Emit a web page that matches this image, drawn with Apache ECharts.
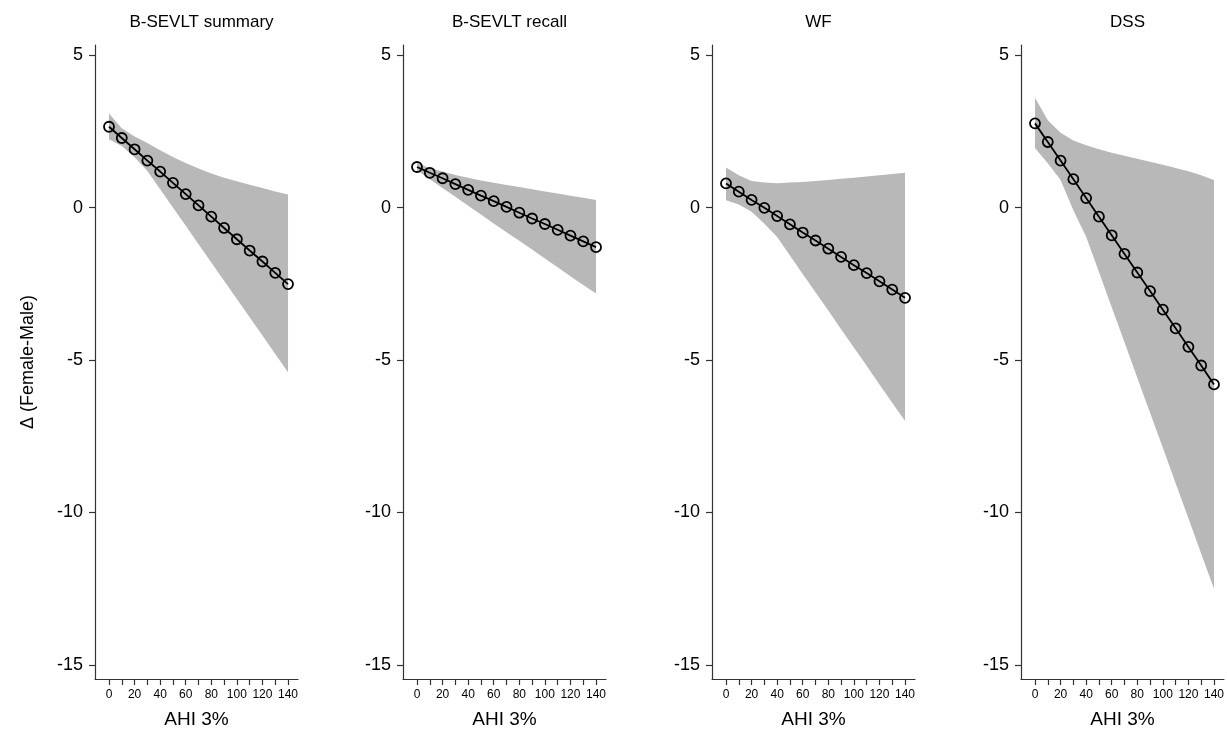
<!DOCTYPE html>
<html>
<head>
<meta charset="utf-8">
<script src="https://cdn.jsdelivr.net/npm/echarts@6/dist/echarts.min.js"></script>
<style>
  html, body { margin: 0; padding: 0; background: #fff; }
  #chart { width: 1227px; height: 735px; }
</style>
</head>
<body>
<div id="chart"></div>
<script>
// AHI 3% values at each point
const ahi = [0, 10, 20, 30, 40, 50, 60, 70, 80, 90, 100, 110, 120, 130, 140];
const panelTitles = ['B-SEVLT summary', 'B-SEVLT recall', 'WF', 'DSS'];
const yTicks = [-15, -10, -5, 0, 5];
const xTicks = [0, 10, 20, 30, 40, 50, 60, 70, 80, 90, 100, 110, 120, 130, 140];
const xLabels = [0, 20, 40, 60, 80, 100, 120, 140];

// estimate (difference female - male) with band bounds
const summaryEst = [2.65, 2.28, 1.91, 1.54, 1.18, 0.81, 0.44, 0.07, -0.30, -0.67, -1.04, -1.41, -1.77, -2.14, -2.51];
const summaryHi = [3.08, 2.60, 2.33, 2.12, 1.88, 1.66, 1.46, 1.28, 1.12, 0.98, 0.86, 0.75, 0.64, 0.53, 0.43];
const summaryLo = [2.24, 2.02, 1.65, 1.20, 0.60, 0.00, -0.60, -1.20, -1.80, -2.40, -3.00, -3.60, -4.20, -4.80, -5.40];

const recallEst = [1.33, 1.14, 0.96, 0.77, 0.58, 0.39, 0.21, 0.02, -0.17, -0.36, -0.54, -0.73, -0.92, -1.11, -1.30];
const recallHi = [1.45, 1.30, 1.18, 1.07, 0.98, 0.89, 0.81, 0.74, 0.67, 0.60, 0.53, 0.46, 0.39, 0.32, 0.25];
const recallLo = [1.22, 0.93, 0.64, 0.35, 0.06, -0.23, -0.52, -0.81, -1.09, -1.38, -1.67, -1.96, -2.25, -2.54, -2.82];

const wfEst = [0.79, 0.52, 0.25, -0.01, -0.28, -0.55, -0.82, -1.08, -1.35, -1.62, -1.89, -2.15, -2.42, -2.69, -2.96];
const wfHi = [1.31, 1.06, 0.87, 0.82, 0.80, 0.82, 0.84, 0.87, 0.90, 0.94, 0.98, 1.02, 1.06, 1.10, 1.14];
const wfLo = [0.24, 0.10, -0.14, -0.53, -0.97, -1.57, -2.18, -2.78, -3.38, -3.99, -4.59, -5.19, -5.80, -6.40, -7.00];

const dssEst = [2.76, 2.15, 1.54, 0.93, 0.31, -0.30, -0.91, -1.52, -2.13, -2.74, -3.35, -3.96, -4.57, -5.18, -5.80];
const dssHi = [3.60, 2.86, 2.45, 2.20, 2.04, 1.91, 1.80, 1.70, 1.60, 1.50, 1.40, 1.30, 1.19, 1.06, 0.90];
const dssLo = [1.95, 1.45, 0.90, -0.09, -0.96, -2.11, -3.27, -4.42, -5.58, -6.73, -7.88, -9.04, -10.19, -11.35, -12.50];

const panels = [
  [summaryEst, summaryHi, summaryLo],
  [recallEst, recallHi, recallLo],
  [wfEst, wfHi, wfLo],
  [dssEst, dssHi, dssLo]
];

const FONT = '"Liberation Sans", Arial, sans-serif';
const lefts = [95, 403, 712, 1021];
const gridW = 203;
const axisColor = '#333';

const chart = echarts.init(document.getElementById('chart'), null, { renderer: 'canvas' });

let grid = [], xAxis = [], yAxis = [], series = [], title = [];

panels.forEach((p, i) => {
  const [est, hi, lo] = p;
  grid.push({ left: lefts[i], top: 45, width: gridW, height: 634 });
  title.push({
    text: panelTitles[i],
    left: lefts[i] + gridW / 2,
    top: 9,
    textAlign: 'center',
    textStyle: { fontFamily: FONT, fontSize: 17, fontWeight: 'normal', color: '#000' }
  });
  xAxis.push({
    type: 'value', gridIndex: i, min: -10.95, max: 147.8,
    name: 'AHI 3%', nameLocation: 'middle', nameGap: 31,
    nameTextStyle: { fontFamily: FONT, fontSize: 19, color: '#000' },
    splitLine: { show: false },
    axisLine: { onZero: false, lineStyle: { color: axisColor, width: 1.2 } },
    axisTick: { customValues: xTicks, length: 6, lineStyle: { color: axisColor, width: 1.2 } },
    axisLabel: { customValues: xLabels, margin: 10, fontFamily: FONT, fontSize: 12, color: '#000' }
  });
  yAxis.push({
    type: 'value', gridIndex: i, min: -15.46, max: 5.33,
    name: i === 0 ? 'Δ (Female-Male)' : '', nameLocation: 'middle', nameGap: 58,
    nameTextStyle: { fontFamily: FONT, fontSize: 18, color: '#000' },
    splitLine: { show: false },
    axisLine: { show: true, onZero: false, lineStyle: { color: axisColor, width: 1.2 } },
    axisTick: { show: true, customValues: yTicks, length: 6, lineStyle: { color: axisColor, width: 1.2 } },
    axisLabel: { customValues: yTicks, margin: 12, fontFamily: FONT, fontSize: 18, color: '#000' }
  });
  // confidence band drawn as one polygon (upper edge, then lower edge back)
  series.push({
    type: 'custom', xAxisIndex: i, yAxisIndex: i,
    data: ahi.map((x, k) => [x, lo[k], hi[k]]),
    silent: true, z: 1,
    renderItem: (params, api) => {
      if (params.dataIndex !== 0) return null;
      const pts = [];
      ahi.forEach((x, k) => pts.push(api.coord([x, hi[k]])));
      for (let k = ahi.length - 1; k >= 0; k--) pts.push(api.coord([ahi[k], lo[k]]));
      return {
        type: 'polygon',
        shape: { points: pts, smooth: 0 },
        style: { fill: '#b8b8b8' }
      };
    }
  });
  series.push({
    type: 'line', xAxisIndex: i, yAxisIndex: i,
    data: ahi.map((x, k) => [x, est[k]]),
    symbol: 'circle', symbolSize: 10, showAllSymbol: true,
    lineStyle: { color: '#000', width: 1.8 },
    itemStyle: { color: 'rgba(0,0,0,0)', borderColor: '#000', borderWidth: 1.8 },
    z: 5
  });
});

chart.setOption({
  animation: false,
  backgroundColor: '#fff',
  title, grid, xAxis, yAxis, series
});
</script>
</body>
</html>
